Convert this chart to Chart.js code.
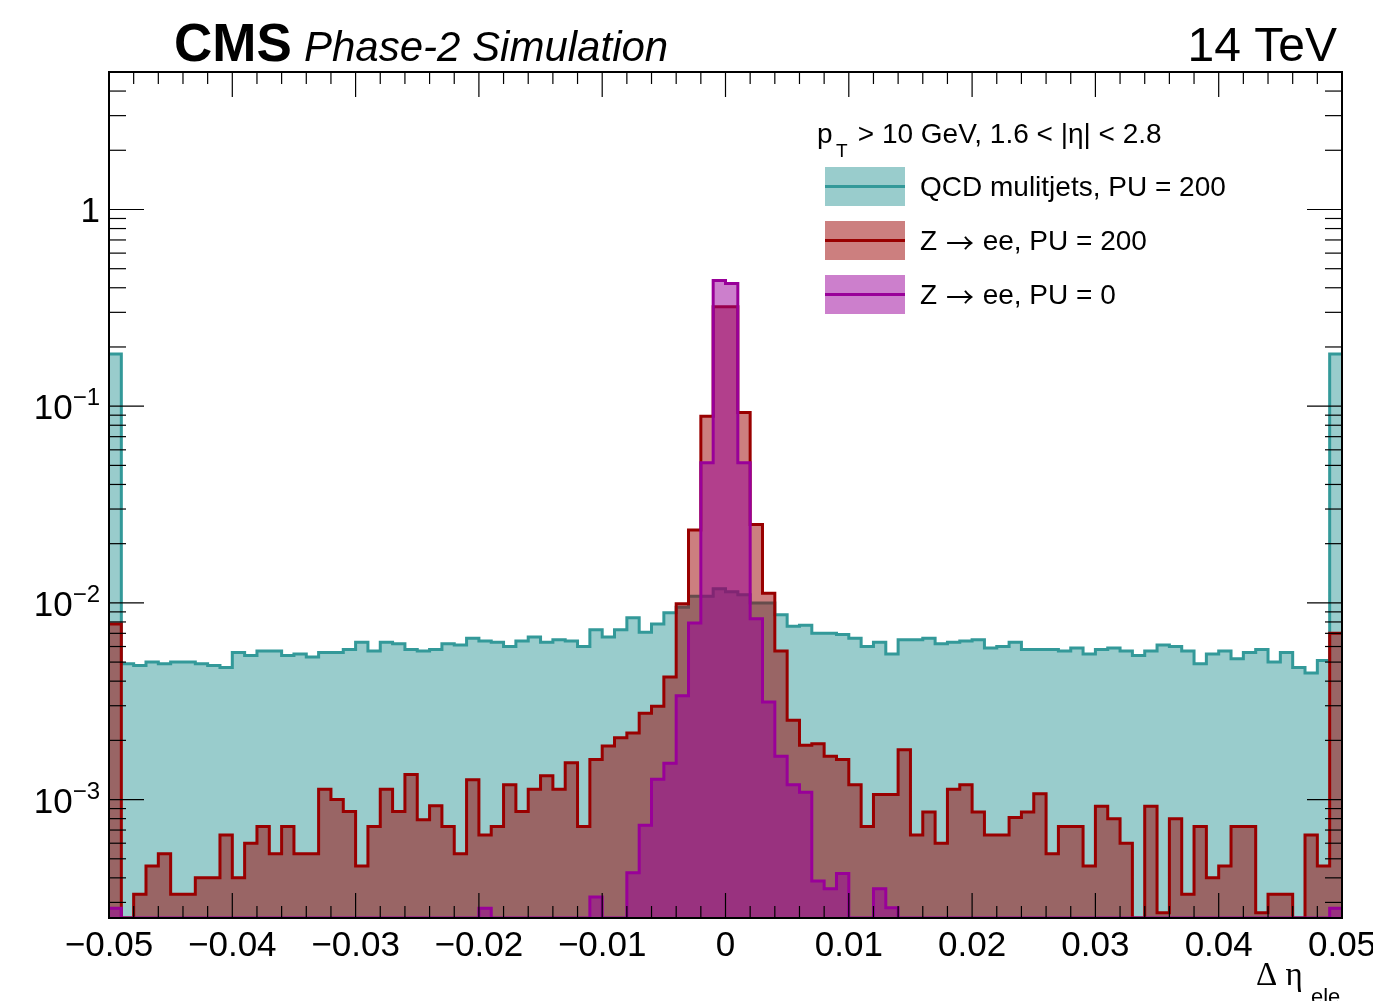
<!DOCTYPE html>
<html>
<head>
<meta charset="utf-8">
<title>Delta eta ele</title>
<script src="https://cdn.jsdelivr.net/npm/chart.js@4"></script>
<style>
  html, body { margin: 0; padding: 0; background: #fff; }
  canvas { display: block; }
</style>
</head>
<body>
<canvas id="deta" width="1373" height="1001"></canvas>
<script>
// binning: 100 bins of 0.001 between -0.05 and 0.05
const X_MIN = -0.05, X_MAX = 0.05, BIN_W = 0.001;
const Y_MIN = 2.5e-4, Y_MAX = 5;

// normalised bin contents, left to right
const qcdPU200 = [
  0.184, 0.0049, 0.0048, 0.0050, 0.0049, 0.0050, 0.0050, 0.0049, 0.0048, 0.0047,
  0.0056, 0.0054, 0.0057, 0.0057, 0.0054, 0.0055, 0.0053, 0.0056, 0.0056, 0.0058,
  0.0063, 0.0057, 0.0063, 0.0062, 0.0058, 0.0057, 0.0058, 0.0062, 0.0061, 0.0066,
  0.0064, 0.0063, 0.0060, 0.0064, 0.0067, 0.0063, 0.0065, 0.0064, 0.0060, 0.0073,
  0.0067, 0.0073, 0.0084, 0.0071, 0.0078, 0.0089, 0.0095, 0.0108, 0.0108, 0.0118,
  0.0114, 0.0110, 0.0100, 0.0100, 0.0087, 0.0076, 0.0077, 0.0070, 0.0070, 0.0069,
  0.0066, 0.0060, 0.0063, 0.0055, 0.0065, 0.0065, 0.0066, 0.0062, 0.0063, 0.0064,
  0.0065, 0.0059, 0.0060, 0.0063, 0.0058, 0.0058, 0.0058, 0.0057, 0.0059, 0.0055,
  0.0058, 0.0059, 0.0057, 0.0054, 0.0057, 0.0061, 0.0060, 0.0057, 0.0049, 0.0055,
  0.0057, 0.0052, 0.0056, 0.0058, 0.0050, 0.0056, 0.0047, 0.0044, 0.0051, 0.184
];

const zeePU200 = [
  0.0078, 0, 3.3e-4, 4.6e-4, 5.3e-4, 3.3e-4, 3.3e-4, 4.0e-4, 4.0e-4, 6.6e-4,
  4.0e-4, 6.0e-4, 7.3e-4, 5.3e-4, 7.3e-4, 5.3e-4, 5.3e-4, 1.13e-3, 1.0e-3, 8.7e-4,
  4.6e-4, 7.3e-4, 1.13e-3, 8.7e-4, 1.34e-3, 7.9e-4, 9.3e-4, 7.3e-4, 5.3e-4, 1.26e-3,
  6.6e-4, 7.3e-4, 1.19e-3, 8.7e-4, 1.13e-3, 1.32e-3, 1.13e-3, 1.54e-3, 7.3e-4, 1.6e-3,
  1.87e-3, 2.06e-3, 2.18e-3, 2.75e-3, 2.98e-3, 4.2e-3, 9.9e-3, 0.0235, 0.089, 0.32,
  0.32, 0.093, 0.025, 0.0112, 5.7e-3, 2.53e-3, 1.89e-3, 1.92e-3, 1.66e-3, 1.6e-3,
  1.19e-3, 7.3e-4, 1.06e-3, 1.06e-3, 1.79e-3, 6.6e-4, 8.65e-4, 6.0e-4, 1.13e-3, 1.19e-3,
  8.65e-4, 6.6e-4, 6.6e-4, 8.1e-4, 8.65e-4, 1.07e-3, 5.3e-4, 7.3e-4, 7.3e-4, 4.6e-4,
  9.25e-4, 8.0e-4, 6.0e-4, 0, 9.25e-4, 2.66e-4, 8.0e-4, 3.3e-4, 7.3e-4, 4.0e-4,
  4.6e-4, 7.3e-4, 7.3e-4, 2.66e-4, 3.3e-4, 3.3e-4, 0, 6.6e-4, 4.6e-4, 0.0070
];

const zeePU0 = [
  2.8e-4, 0, 0, 0, 0, 0, 0, 0, 0, 0,
  0, 0, 0, 0, 0, 0, 0, 0, 0, 0,
  0, 0, 0, 0, 0, 0, 0, 0, 0, 0,
  2.8e-4, 0, 0, 0, 0, 0, 0, 0, 0, 3.2e-4,
  0, 0, 4.25e-4, 7.4e-4, 1.27e-3, 1.53e-3, 3.37e-3, 7.9e-3, 0.0515, 0.436,
  0.42, 0.0515, 8.3e-3, 3.13e-3, 1.66e-3, 1.19e-3, 1.09e-3, 3.85e-4, 3.52e-4, 4.21e-4,
  0, 0, 3.52e-4, 2.82e-4, 0, 0, 0, 0, 0, 0,
  0, 0, 0, 0, 0, 0, 0, 0, 0, 0,
  0, 0, 0, 0, 0, 0, 0, 0, 0, 0,
  0, 0, 0, 0, 0, 0, 0, 0, 0, 2.8e-4
];

const seriesLabels = ['QCD mulitjets, PU = 200', 'Z \u2192 ee, PU = 200', 'Z \u2192 ee, PU = 0'];

// axis labels
const xTickValues = [-0.05, -0.04, -0.03, -0.02, -0.01, 0, 0.01, 0.02, 0.03, 0.04, 0.05];
const xTickLabels = ['\u22120.05', '\u22120.04', '\u22120.03', '\u22120.02', '\u22120.01', '0',
                     '0.01', '0.02', '0.03', '0.04', '0.05'];
const yTickValues = [1e-3, 1e-2, 1e-1, 1];
const yTickBase = ['10', '10', '10', '1'];
const yTickExp = ['\u22123', '\u22122', '\u22121', ''];

const TEAL = 'rgb(51,153,153)', TEAL_FILL = 'rgba(51,153,153,0.5)';
const RED = 'rgb(153,0,0)', RED_FILL = 'rgba(153,0,0,0.5)';
const PURPLE = 'rgb(153,0,153)', PURPLE_FILL = 'rgba(153,0,153,0.5)';
const SANS = '"Liberation Sans", Arial, sans-serif';
const SERIF = '"Liberation Serif", "Times New Roman", serif';
const ARROW_FONT = '"Noto Sans CJK SC", "DejaVu Sans", sans-serif';

// two points per bin so the outline is a histogram step;
// empty bins sit on the axis floor as in ROOT
function histPoints(vals) {
  const pts = [];
  vals.forEach((v, i) => {
    const y = Math.max(v, Y_MIN);
    pts.push({ x: X_MIN + i * BIN_W, y: y });
    pts.push({ x: X_MIN + (i + 1) * BIN_W, y: y });
  });
  return pts;
}

function line(ctx, x1, y1, x2, y2) {
  ctx.beginPath();
  ctx.moveTo(x1, y1);
  ctx.lineTo(x2, y2);
  ctx.stroke();
}

// legend text; the arrow comes from a font with a long thin glyph
function drawLabel(ctx, text, x, y) {
  const parts = text.split('\u2192');
  parts.forEach((p, i) => {
    ctx.font = '28px ' + SANS;
    ctx.fillText(p, x, y);
    x += ctx.measureText(p).width;
    if (i < parts.length - 1) {
      ctx.font = '28px ' + ARROW_FONT;
      ctx.fillText('\u2192', x + 1, y + 1);
      x += ctx.measureText('\u2192').width + 2;
    }
  });
}

// ticks inside the frame on all four sides, drawn over the histograms
const rootFrame = {
  id: 'rootFrame',
  afterDatasetsDraw(chart) {
    const { ctx, chartArea: a, scales: { x, y } } = chart;
    ctx.save();
    ctx.strokeStyle = '#000';
    ctx.lineWidth = 1.2;
    for (let k = 0; k <= 50; k++) {
      const px = x.getPixelForValue(X_MIN + k * 0.002);
      const len = k % 5 === 0 ? 25 : 12;
      line(ctx, px, a.bottom, px, a.bottom - len);
      line(ctx, px, a.top, px, a.top + len);
    }
    for (let e = -4; e <= 0; e++) {
      for (let m = 1; m <= 9; m++) {
        const v = m * Math.pow(10, e);
        if (v < Y_MIN || v > Y_MAX) continue;
        const py = y.getPixelForValue(v);
        const len = m === 1 ? 35 : 17;
        line(ctx, a.left, py, a.left + len, py);
        line(ctx, a.right, py, a.right - len, py);
      }
    }
    ctx.lineWidth = 2;
    ctx.strokeRect(a.left, a.top, a.right - a.left, a.bottom - a.top);
    ctx.restore();
  },
  afterDraw(chart) {
    const { ctx, chartArea: a, scales: { x, y } } = chart;
    ctx.save();
    ctx.fillStyle = '#000';

    // x tick labels
    ctx.font = '35px ' + SANS;
    ctx.textAlign = 'center';
    ctx.textBaseline = 'alphabetic';
    xTickValues.forEach((v, i) => {
      ctx.fillText(xTickLabels[i], x.getPixelForValue(v), 956);
    });

    // y tick labels with raised exponent
    yTickValues.forEach((v, i) => {
      const py = y.getPixelForValue(v) + 13;
      ctx.font = '24px ' + SANS;
      const wExp = ctx.measureText(yTickExp[i]).width;
      ctx.textAlign = 'right';
      ctx.fillText(yTickExp[i], 100, py - 14);
      ctx.font = '35px ' + SANS;
      ctx.fillText(yTickBase[i], 100 - wExp, py);
    });

    // x axis title
    ctx.textAlign = 'left';
    ctx.font = '33px ' + SERIF;
    ctx.fillText('\u0394 \u03b7', 1256, 985);
    ctx.font = '22px ' + SANS;
    ctx.fillText('ele', 1311, 1004);

    // header
    ctx.font = 'bold 53px ' + SANS;
    ctx.fillText('CMS', 174, 61);
    ctx.font = 'italic 42px ' + SANS;
    ctx.fillText('Phase-2 Simulation', 304, 61);
    ctx.font = '48px ' + SANS;
    ctx.textAlign = 'right';
    ctx.fillText('14 TeV', 1337, 61);

    // legend
    ctx.textAlign = 'left';
    ctx.font = '28px ' + SANS;
    ctx.fillText('p', 817, 143);
    ctx.font = '19px ' + SANS;
    ctx.fillText('T', 836, 157);
    ctx.font = '28px ' + SANS;
    ctx.fillText(' > 10 GeV, 1.6 < |\u03b7| < 2.8', 850, 143);

    const rows = [167, 221, 275];
    chart.data.datasets.forEach((ds, i) => {
      const top = rows[i];
      ctx.fillStyle = ds.backgroundColor;
      ctx.fillRect(825, top, 80, 39);
      ctx.strokeStyle = ds.borderColor;
      ctx.lineWidth = 3;
      line(ctx, 825, top + 19.5, 905, top + 19.5);
      ctx.fillStyle = '#000';
      ctx.textBaseline = 'middle';
      drawLabel(ctx, ds.label, 920, top + 21);
      ctx.textBaseline = 'alphabetic';
    });
    ctx.restore();
  }
};

new Chart(document.getElementById('deta'), {
  type: 'line',
  data: {
    datasets: [
      { label: seriesLabels[0], data: histPoints(qcdPU200), borderColor: TEAL, backgroundColor: TEAL_FILL, fill: 'start', order: 3 },
      { label: seriesLabels[1], data: histPoints(zeePU200), borderColor: RED, backgroundColor: RED_FILL, fill: 'start', order: 2 },
      { label: seriesLabels[2], data: histPoints(zeePU0), borderColor: PURPLE, backgroundColor: PURPLE_FILL, fill: 'start', order: 1 }
    ]
  },
  options: {
    responsive: false,
    devicePixelRatio: 1,
    animation: false,
    layout: { padding: { left: 109, right: 31, top: 72, bottom: 83 } },
    elements: {
      point: { radius: 0, hoverRadius: 0 },
      line: { borderWidth: 3, tension: 0, borderJoinStyle: 'miter' }
    },
    scales: {
      x: { type: 'linear', min: X_MIN, max: X_MAX, display: false },
      y: { type: 'logarithmic', min: Y_MIN, max: Y_MAX, display: false }
    },
    plugins: {
      legend: { display: false },
      tooltip: { enabled: false },
      filler: { drawTime: 'beforeDatasetDraw' }
    }
  },
  plugins: [rootFrame]
});
</script>
</body>
</html>
